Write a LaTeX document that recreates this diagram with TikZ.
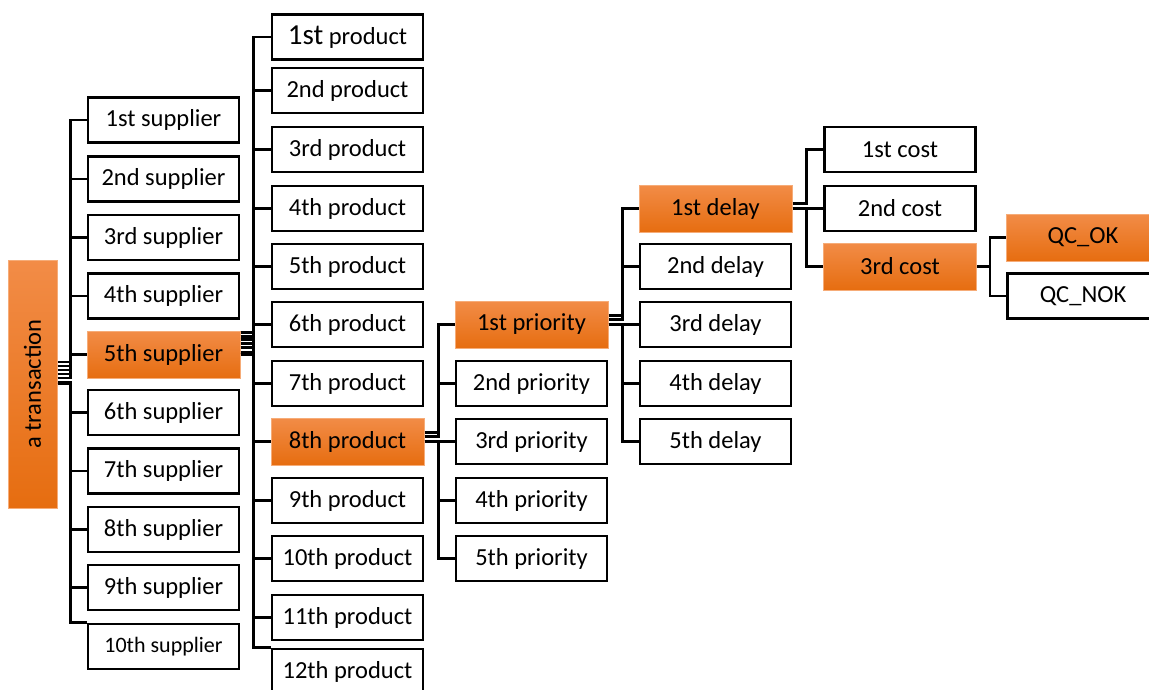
\documentclass[tikz,border=0pt]{standalone}
\usepackage{fontspec}
\setmainfont{Carlito}
\definecolor{orL}{HTML}{F28C47}
\definecolor{orD}{HTML}{E66D10}
\definecolor{orB}{HTML}{F6AC78}
\tikzset{
  box/.style={draw=black, line width=2.8pt, fill=white, minimum width=151pt, minimum height=45pt, inner sep=0pt, font=\fontsize{24.5}{28}\selectfont},
  hl/.style={draw=orB, line width=1pt, top color=orL, bottom color=orD, minimum width=153pt, minimum height=47pt, inner sep=0pt, font=\fontsize{24.5}{28}\selectfont},
  conn/.style={line width=2.4pt, black},
}
\begin{document}
\begin{tikzpicture}[x=1pt,y=-1pt]
\useasboundingbox (0,0) rectangle (1149,689);
% root
\node[hl, rotate=90, minimum width=248pt, minimum height=49pt] (root) at (32.5,384) {a transaction};
% suppliers
\node[box] (s1) at (163.5,120) {1st supplier};
\node[box] (s2) at (163.5,179) {2nd supplier};
\node[box] (s3) at (163.5,237.5) {3rd supplier};
\node[box] (s4) at (163.5,296) {4th supplier};
\node[hl]  (s5) at (163.5,354.5) {5th supplier};
\node[box] (s6) at (163.5,412.5) {6th supplier};
\node[box] (s7) at (163.5,471) {7th supplier};
\node[box] (s8) at (163.5,529.5) {8th supplier};
\node[box] (s9) at (163.5,587.5) {9th supplier};
\node[box, font=\fontsize{22}{26}\selectfont] (s10) at (163.5,646.5) {10th supplier};
% products
\node[box] (p1) at (347.5,37) {{\fontsize{29}{32}\selectfont 1st} product};
\node[box] (p2) at (347.5,90.5) {2nd product};
\node[box] (p3) at (347.5,149.5) {3rd product};
\node[box] (p4) at (347.5,208.5) {4th product};
\node[box] (p5) at (347.5,266.5) {5th product};
\node[box] (p6) at (347.5,324.5) {6th product};
\node[box] (p7) at (347.5,383.5) {7th product};
\node[hl]  (p8) at (347.5,441.5) {8th product};
\node[box] (p9) at (347.5,500.5) {9th product};
\node[box] (p10) at (347.5,558.5) {10th product};
\node[box] (p11) at (347.5,617.5) {11th product};
\node[box] (p12) at (347.5,671.5) {12th product};
% priorities
\node[hl]  (r1) at (531.5,324.5) {1st priority};
\node[box] (r2) at (531.5,383.5) {2nd priority};
\node[box] (r3) at (531.5,441.5) {3rd priority};
\node[box] (r4) at (531.5,500.5) {4th priority};
\node[box] (r5) at (531.5,558.5) {5th priority};
% delays
\node[hl]  (d1) at (715.5,208.5) {1st delay};
\node[box] (d2) at (715.5,266.5) {2nd delay};
\node[box] (d3) at (715.5,324.5) {3rd delay};
\node[box] (d4) at (715.5,383.5) {4th delay};
\node[box] (d5) at (715.5,441.5) {5th delay};
% costs
\node[box] (c1) at (900,149.5) {1st cost};
\node[box] (c2) at (900,208.5) {2nd cost};
\node[hl]  (c3) at (900,266.5) {3rd cost};
% QC
\node[hl]  (q1) at (1083,237.5) {QC\_OK};
\node[box] (q2) at (1083,296) {QC\_NOK};
% connectors root -> suppliers
\foreach \c/\o in {s1/22,s2/18,s3/14,s4/10,s5/6,s6/2,s7/1,s8/0,s9/0}
  \draw[conn] ([yshift=\o pt]root.south) -- ++(13,0) |- (\c.west);
\draw[conn] (root.south) -- ++(13,0) |- (s10.north west);
% 5th supplier -> products
\foreach \c/\o in {p1/22,p2/18,p3/15,p4/11,p5/7,p6/2,p7/1,p8/0,p9/0,p10/0,p11/0}
  \draw[conn] ([yshift=\o pt]s5.east) -- ++(13,0) |- (\c.west);
\draw[conn] (s5.east) -- ++(13,0) |- (p12.north west);
% 8th product -> priorities
\foreach \c/\o in {r1/9,r2/5,r3/0,r4/0,r5/0}
  \draw[conn] ([yshift=\o pt]p8.east) -- ++(14,0) |- (\c.west);
% 1st priority -> delays
\foreach \c/\o in {d1/9,d2/5,d3/0,d4/0,d5/0}
  \draw[conn] ([yshift=\o pt]r1.east) -- ++(14,0) |- (\c.west);
% 1st delay -> costs
\foreach \c/\o in {c1/5,c2/0,c3/0}
  \draw[conn] ([yshift=\o pt]d1.east) -- ++(14,0) |- (\c.west);
% 3rd cost -> QC
\foreach \c in {q1,q2}
  \draw[conn] (c3.east) -- ++(13,0) |- (\c.west);
\end{tikzpicture}
\end{document}
